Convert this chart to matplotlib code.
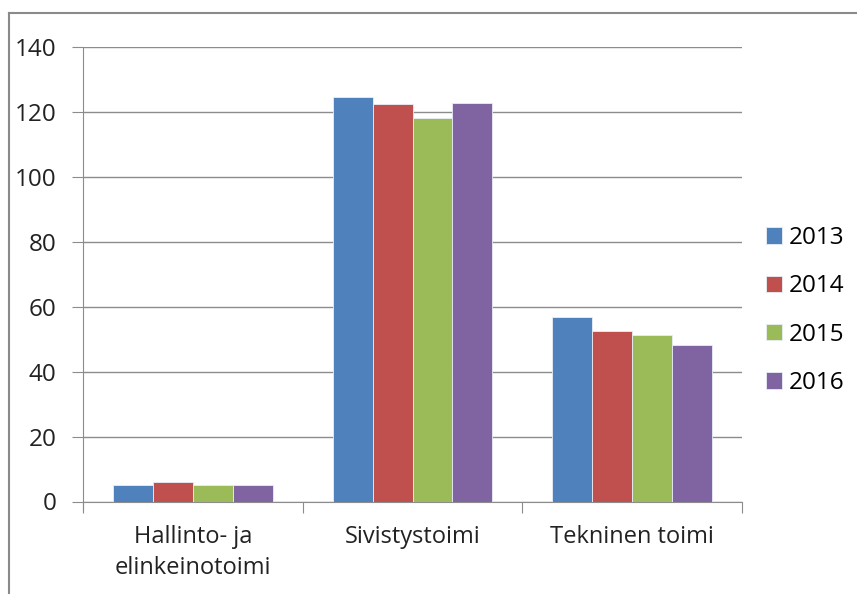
import matplotlib
matplotlib.use("Agg")
import matplotlib.pyplot as plt
import numpy as np
from matplotlib.lines import Line2D

plt.rcParams['font.family'] = ['Open Sans', 'DejaVu Sans']

categories = ["Hallinto- ja\nelinkeinotoimi", "Sivistystoimi", "Tekninen toimi"]
years = ["2013", "2014", "2015", "2016"]
values = {
    "2013": [5.1, 124.7, 56.9],
    "2014": [5.9, 122.3, 52.5],
    "2015": [5.1, 118.0, 51.4],
    "2016": [5.1, 122.6, 48.2],
}
colors = ["#4F81BD", "#C0504D", "#9BBB59", "#8064A2"]

fig = plt.figure(figsize=(8.57, 5.94), dpi=100)
ax = fig.add_axes([83/857, 1-501.5/594, (742-83)/857, (501.5-47)/594])

x = np.arange(len(categories))
bw = 0.182
for i, y in enumerate(years):
    ax.bar(x + (i - 1.5) * bw, values[y], width=bw, color=colors[i],
           edgecolor="#e8eef6", linewidth=0.6, label=y, zorder=3)

ax.set_xlim(-0.5, 2.5)
ax.set_ylim(0, 140)
ax.set_yticks(np.arange(0, 141, 20))
ax.yaxis.grid(True, color="#8c8c8c", linewidth=1.0, zorder=0)
ax.set_axisbelow(True)
for s in ["top", "right"]:
    ax.spines[s].set_visible(False)
ax.spines["left"].set_color("#8c8c8c")
ax.spines["bottom"].set_color("#8c8c8c")
ax.spines["left"].set_bounds(-2.5, 140)
ax.tick_params(axis="y", length=8, color="#8c8c8c", labelsize=17.5, labelcolor="#222222", pad=11)
ax.set_xticks([-0.5, 0.5, 1.5, 2.5], minor=False)
ax.set_xticklabels([])
ax.tick_params(axis="x", which="major", length=8, color="#8c8c8c")
ax.set_xticks(x, minor=True)
ax.set_xticklabels(categories, minor=True, linespacing=1.4)
ax.tick_params(axis="x", which="minor", length=0, labelsize=17, labelcolor="#222222", pad=17)

leg = ax.legend(loc="center left", bbox_to_anchor=(1.003, 0.42), frameon=False,
                fontsize=17.5, handlelength=0.66, handleheight=0.66, handletextpad=0.3,
                labelspacing=1.0)

# outer chart border
fig.add_artist(Line2D([9/857, 9/857], [0, 1-13/594], color="#8a8a8a", linewidth=1.5, transform=fig.transFigure))
fig.add_artist(Line2D([9/857, 1], [1-13/594, 1-13/594], color="#8a8a8a", linewidth=1.5, transform=fig.transFigure))

fig.savefig("out.png", dpi=100)
